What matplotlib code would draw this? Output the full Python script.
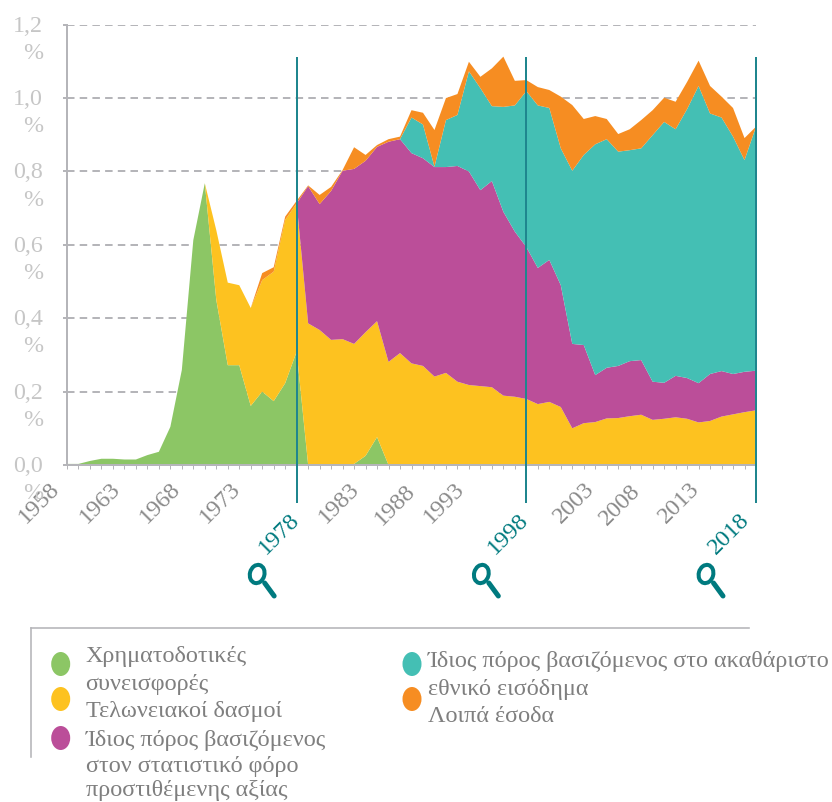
import numpy as np
import matplotlib
matplotlib.use("Agg")
import matplotlib.pyplot as plt
from matplotlib.patches import Ellipse
from matplotlib.lines import Line2D
from matplotlib.transforms import ScaledTranslation, IdentityTransform

plt.rcParams['font.family'] = ['Liberation Serif', 'DejaVu Serif']

# ---------- data ----------
years = np.arange(1958, 2019)

green = [.003, .003, .011, .017, .017, .015, .015, .027, .036, .104, .259, .613, .768,
         .45, .272, .272, .161, .2, .174, .223, .309, 0, 0, 0, 0, .003, .025, .076] + [0] * 33

yellow_upper = [.003, .003, .011, .017, .017, .015, .015, .027, .036, .104, .259, .613, .768,
                .64, .497, .49, .428, .504, .527, .668, .713,
                .386, .368, .341, .343, .33, .362, .392, .281, .305, .277, .27, .241, .251,
                .227, .218, .215, .212, .189, .186, .18, .166, .172, .158, .1, .114, .117,
                .127, .128, .133, .137, .123, .126, .13, .126, .116, .12, .132, .138, .144, .149]

purple_upper_from_1979 = [.76, .711, .747, .802, .807, .829, .867, .881, .888, .85, .836, .812,
                          .812, .815, .8, .749, .774, .69, .636, .594, .537, .559, .49, .33,
                          .327, .245, .265, .27, .283, .286, .227, .224, .243, .237, .223,
                          .248, .256, .248, .254, .257]

teal_upper_from_1988 = [.947, .928, .813, .94, .954, 1.073, 1.027, .978, .976, .98, 1.019, .98,
                        .973, .863, .802, .845, .874, .888, .854, .858, .863, .899, .935, .915,
                        .97, 1.033, .958, .947, .895, .831, .922]

orange_upper_from_1975 = [.523, .539, .677, .72, .762, .736, .758, .804, .866, .845, .872, .888,
                          .895, .967, .96, .913, 1.0, 1.011, 1.099, 1.058, 1.081, 1.113, 1.047,
                          1.049, 1.03, 1.022, 1.004, .981, .943, .951, .943, .902, .915, .94,
                          .967, 1.001, .99, 1.044, 1.102, 1.033, 1.004, .973, .891, .922]

y_ticks = [0.0, 0.2, 0.4, 0.6, 0.8, 1.0, 1.2]
y_tick_labels = ["0,0\n%", "0,2\n%", "0,4\n%", "0,6\n%", "0,8\n%", "1,0\n%", "1,2\n%"]
x_tick_years = [1958, 1963, 1968, 1973, 1978, 1983, 1988, 1993, 1998, 2003, 2008, 2013, 2018]
highlight_years = [1978, 1998, 2018]

legend_left = ["Χρηματοδοτικές\nσυνεισφορές", "Τελωνειακοί δασμοί",
               "Ίδιος πόρος βασιζόμενος\nστον στατιστικό φόρο\nπροστιθέμενης αξίας"]
legend_right = ["Ίδιος πόρος βασιζόμενος στο ακαθάριστο\nεθνικό εισόδημα", "Λοιπά έσοδα"]

# ---------- derived stack ----------
green = np.array(green, float)
yellow_upper = np.array(yellow_upper, float)
purple_upper = np.r_[yellow_upper[:21], purple_upper_from_1979]
teal_upper = np.r_[purple_upper[:30], teal_upper_from_1988]
orange_upper = np.r_[yellow_upper[:17], orange_upper_from_1975]
stack = [green, yellow_upper - green, purple_upper - yellow_upper,
         teal_upper - purple_upper, orange_upper - teal_upper]

# ---------- style ----------
W, H = 832, 802
COLORS = ['#8cc665', '#fdc220', '#bb4e99', '#44bfb4', '#f68d22']
AXIS = '#b5b5b9'
TEAL = '#007a7f'
VLINE = '#1f868e'
GREY_Y = '#c6c6c6'
GREY_X = '#8a8a8a'
GREY_T = '#7f7f7f'
px = 72 / 100

fig = plt.figure(figsize=(W / 100, H / 100), dpi=100, facecolor='white')
L, R, T, B = 67, 756, 24.7, 465
ax = fig.add_axes([L / W, 1 - B / H, (R - L) / W, (B - T) / H])
ax.set_xlim(1958, 2018)
ax.set_ylim(0, 1.2)
ax.set_facecolor('none')

ax.yaxis.grid(True, color=AXIS, lw=2 * px, dashes=(3.75, 2.6), zorder=1)
ax.set_axisbelow(True)
ax.stackplot(years, *stack, colors=COLORS, linewidth=0, zorder=2)

for s in ('top', 'right'):
    ax.spines[s].set_visible(False)
for s in ('left', 'bottom'):
    ax.spines[s].set_color(AXIS)
    ax.spines[s].set_linewidth(2 * px)

ax.vlines(highlight_years, -0.104, 1.112, color=VLINE, lw=2 * px, clip_on=False, zorder=4)

# y ticks
ax.set_yticks(y_ticks)
ax.set_yticklabels(y_tick_labels)
ax.tick_params(axis='y', length=4 * px, width=2 * px, color=AXIS, pad=0)
for lab in ax.get_yticklabels():
    lab.set_fontsize(17.3)
    lab.set_color(GREY_Y)
    lab.set_va('top')
    lab.set_ha('right')
    lab.set_multialignment('right')
    lab.set_linespacing(1.38)
    lab.set_transform(lab.get_transform() + ScaledTranslation(-20 * px / 72, 9 * px / 72, fig.dpi_scale_trans))

# x ticks
ax.set_xticks(x_tick_years)
ax.set_xticklabels([str(y) for y in x_tick_years])
ax.set_xticks(years, minor=True)
ax.tick_params(axis='x', which='both', length=4 * px, width=1 * px, color=AXIS, pad=0)
dx_off = {1958: -3, 1963: 0, 1968: 3, 1973: 6, 1978: 7, 1983: 10, 1988: 8, 1993: 0,
          1998: 6, 2003: 15, 2008: 3, 2013: 5, 2018: -2}
top_edge = {1958: 478, 1963: 478, 1968: 478, 1973: 478, 1978: 509, 1983: 478, 1988: 481,
            1993: 478, 1998: 509, 2003: 478, 2008: 481, 2013: 478, 2018: 509}
for y, lab in zip(x_tick_years, ax.get_xticklabels()):
    lab.set_rotation(45)
    lab.set_ha('right')
    lab.set_va('top')
    lab.set_fontsize(17.5)
    lab.set_color(TEAL if y in highlight_years else GREY_X)
    dy = top_edge[y] - (B + 4)
    lab.set_transform(lab.get_transform() + ScaledTranslation(dx_off[y] * px / 72, -dy * px / 72, fig.dpi_scale_trans))

# magnifier icons
icon_offset = {1978: 39.5, 1998: 45, 2018: 50}
for yr in highlight_years:
    xc = L + (yr - 1958) * (R - L) / 60 - icon_offset[yr]
    yc = 574
    fig.add_artist(Ellipse((xc, H - yc), 14.5, 18.5, angle=-15, fill=False, ec=TEAL, lw=4 * px,
                           transform=IdentityTransform()))
    fig.add_artist(Line2D([xc + 7.5, xc + 17], [H - yc - 9, H - yc - 22], color=TEAL, lw=5 * px,
                          solid_capstyle='round', transform=IdentityTransform()))

# legend frame
fig.add_artist(Line2D([30.5 / W, 749 / W], [1 - 628 / H, 1 - 628 / H], color=AXIS, lw=1.6 * px))
fig.add_artist(Line2D([30.5 / W, 30.5 / W], [1 - 628 / H, 1 - 757 / H], color=AXIS, lw=1.6 * px))


def legend_item(label, color, mx, my, tx, baselines):
    fig.add_artist(Ellipse((mx, H - my), 19, 24, fc=color, ec='none', transform=IdentityTransform()))
    for line, by in zip(label.split('\n'), baselines):
        fig.text(tx / W, 1 - by / H, line, color=GREY_T, fontsize=17.4, ha='left', va='baseline')


legend_item(legend_left[0], COLORS[0], 60.7, 664, 85.5, [662, 690])
legend_item(legend_left[1], COLORS[1], 60.7, 699, 85.5, [716.7])
legend_item(legend_left[2], COLORS[2], 60.7, 738, 85.5, [745.7, 772, 796])
legend_item(legend_right[0], COLORS[3], 412, 664, 428, [667, 695])
legend_item(legend_right[1], COLORS[4], 412, 699, 428, [722])

fig.savefig('out.png', dpi=100, facecolor='white')
